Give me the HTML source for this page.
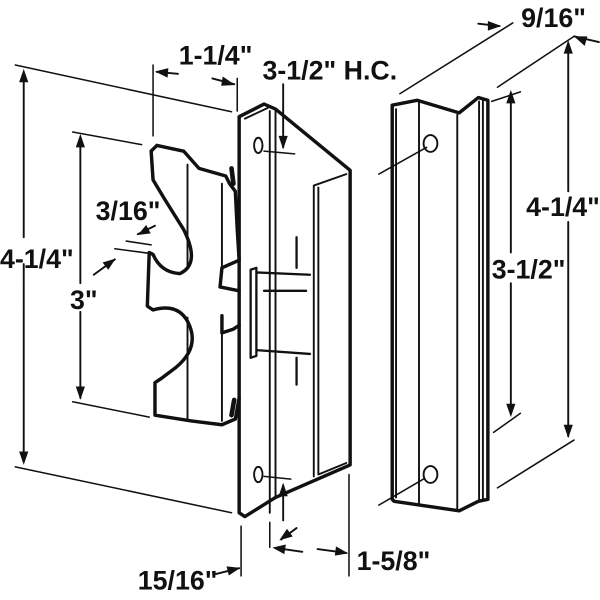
<!DOCTYPE html>
<html><head><meta charset="utf-8"><style>
html,body{margin:0;padding:0;background:#fff;width:600px;height:600px;overflow:hidden}
svg{display:block}
text{font-family:"Liberation Sans Narrow","Liberation Sans",sans-serif;font-weight:bold;fill:#111}
</style></head><body>
<svg width="600" height="600" viewBox="0 0 1568 1568" xmlns="http://www.w3.org/2000/svg">
<g fill="none" stroke="#111" stroke-linejoin="round" stroke-linecap="round">
<path stroke-width="9" d="M625,305 L690,272 L720,285 L915,445 L915,1215 L720,1300 L640,1350 L625,1340 Z"/>
<path stroke-width="5" d="M640,310 L700,282 M705,290 L705,1340 M720,285 L720,1300 M820,485 L905,455 M820,485 L820,1245 M832,490 L832,1240 L905,1210"/>
<ellipse cx="675" cy="380" rx="11" ry="20" stroke-width="5"/>
<ellipse cx="675" cy="1240" rx="11" ry="20" stroke-width="5"/>
<path stroke-width="6" d="M655,705 L670,700 L670,930 L655,935 Z M670,712 L810,718 M670,915 L810,925 M690,760 L800,760 M775,620 L775,700 M775,935 L775,1005"/>
<path stroke-width="9" d="M410,380 L480,395 L520,440 L590,460 L600,480 L615,500 L620,600 L625,680 L580,700 L575,750 L625,760 M410,380 L395,395 L400,470 L430,520 L480,600 Q525,690 470,715 Q420,712 400,665 L390,660 L385,800 L400,810 Q470,790 495,850 Q520,910 460,960 L420,990 L405,1000 L405,1085 L500,1100 L580,1110 L615,1095 L625,1040 M580,825 L580,870 L610,860 L625,850"/>
<path stroke-width="5" d="M490,430 L490,700 M490,830 L490,1100 M580,480 L580,700 M580,870 L580,1100"/>
<path stroke-width="12" d="M605,440 L610,480 M612,1045 L605,1085"/>
<path stroke-width="9" d="M1025,275 L1090,262 L1200,295 L1250,255 L1275,262 L1275,1305 L1250,1310 L1200,1335 L1030,1310 L1025,1305 Z"/>
<path stroke-width="5" d="M1035,285 L1035,1300 M1095,265 L1095,1320 M1195,300 L1195,1330 M1252,265 L1252,1305 M1262,260 L1262,1305"/>
<ellipse cx="1125" cy="375" rx="18" ry="22" stroke-width="5"/>
<ellipse cx="1125" cy="1240" rx="18" ry="22" stroke-width="5"/>
<path stroke-width="4" d="M40,170 L605,292 M40,1220 L605,1340 M190,345 L370,378 M190,1050 L390,1090 M400,170 L400,355 M620,205 L620,290 M330,630 L395,640 M300,650 L390,662 M690,395 L770,402 M690,1245 L760,1252 M630,1375 L630,1505 M705,1365 L705,1430 M912,1240 L912,1505 M1045,245 L1340,60 M1300,228 L1500,95 M1285,265 L1360,240 M1290,1130 L1360,1080 M1300,1275 L1500,1150 M990,455 L1115,385 M990,1320 L1110,1250"/>
<path stroke-width="5" d="M62,195 L62,620 M62,690 L62,1205 M210,360 L210,740 M210,815 L210,1040 M410,188 L465,193 M555,205 L612,220 M740,220 L740,385 M740,1268 L740,1360 M1335,245 L1335,660 M1335,740 L1335,1080 M1485,115 L1485,500 M1485,580 L1485,1140 M1250,62 L1305,68 M1500,95 L1565,110 M405,590 L360,612 M245,718 L300,678 M775,1380 L735,1410 M720,1432 L790,1442 M830,1435 L905,1445 M565,1500 L625,1485"/>
</g>
<g fill="#111">
<polygon points="62,180 50,215 74,215"/><polygon points="62,1215 50,1180 74,1180"/>
<polygon points="210,350 198,385 222,385"/><polygon points="210,1045 198,1010 222,1010"/>
<polygon points="405,187 440,178 438,203"/><polygon points="615,222 582,200 578,224"/>
<polygon points="740,390 728,355 752,355"/><polygon points="740,1262 728,1297 752,1297"/>
<polygon points="1335,235 1323,270 1347,270"/><polygon points="1335,1090 1323,1055 1347,1055"/>
<polygon points="1485,105 1473,140 1497,140"/><polygon points="1485,1145 1473,1110 1497,1110"/>
<polygon points="1310,68 1275,55 1275,80"/><polygon points="1500,95 1535,95 1528,120"/>
<polygon points="360,614 382,588 394,610"/><polygon points="302,676 283,705 268,686"/>
<polygon points="730,1412 750,1382 765,1402"/><polygon points="712,1431 747,1423 743,1448"/>
<polygon points="910,1446 875,1452 878,1428"/><polygon points="628,1484 598,1504 592,1480"/>
</g>
<g font-size="70">
<text x="467" y="168">1-1/4"</text>
<text x="686" y="208">3-1/2" H.C.</text>
<text x="1362" y="70">9/16"</text>
<text x="0" y="700">4-1/4"</text>
<text x="250" y="575">3/16"</text>
<text x="183" y="808">3"</text>
<text x="1285" y="728">3-1/2"</text>
<text x="1375" y="565">4-1/4"</text>
<text x="360" y="1540">15/16"</text>
<text x="932" y="1490">1-5/8"</text>
</g>
</svg>
</body></html>
